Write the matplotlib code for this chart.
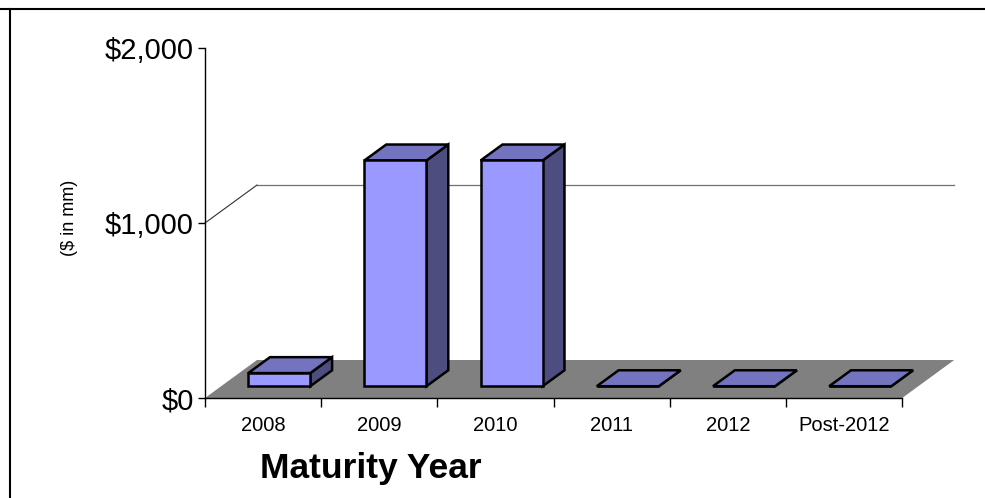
import matplotlib
matplotlib.use("Agg")
import matplotlib.pyplot as plt
from matplotlib.patches import Polygon
from matplotlib.lines import Line2D

plt.rcParams['font.family'] = ['Liberation Sans', 'DejaVu Sans']

# maturities, $ in mm
years = ['2008', '2009', '2010', '2011', '2012', 'Post-2012']
amounts = [75, 1290, 1290, 0, 0, 0]
y_ticks = [0, 1000, 2000]
y_labels = ['$0', '$1,000', '$2,000']

# fake 3-d look: depth offset of the floor, in data units
DEPTH_X = 0.4475
DEPTH_Y = 217
BAR_FRONT = 0.31   # where the bar front sits inside the depth
BAR_DEPTH = 0.42   # how deep each bar is
BAR_W = 0.534

FRONT = '#9999ff'
TOP = '#7373c0'
SIDE = '#4d4d80'

fig = plt.figure(figsize=(9.85, 4.98), dpi=100)
ax = fig.add_axes([205 / 985, 100 / 498, 116.2 * 6.6 / 985, 0.175 * 2250 / 498])
ax.set_xlim(0, 6.6)
ax.set_ylim(0, 2250)
ax.patch.set_visible(False)

n = len(years)

# floor
floor = Polygon([(0, 0), (n, 0), (n + DEPTH_X, DEPTH_Y), (DEPTH_X, DEPTH_Y)],
                closed=True, facecolor='#808080', edgecolor='none', zorder=1)
ax.add_patch(floor)

# gridline on the back wall plus the diagonal joining it to the axis
for t in y_ticks[1:-1]:
    ax.plot([DEPTH_X, n + DEPTH_X], [t + DEPTH_Y, t + DEPTH_Y],
            color='#707070', lw=0.9, zorder=2, clip_on=False)
    ax.plot([0, DEPTH_X], [t, t + DEPTH_Y], color='#303030', lw=0.8,
            zorder=2, clip_on=False)

ox, oy = BAR_FRONT * DEPTH_X, BAR_FRONT * DEPTH_Y
bx, by = BAR_DEPTH * DEPTH_X, BAR_DEPTH * DEPTH_Y
for i, v in enumerate(amounts):
    x0 = i + 0.5 - BAR_W / 2 + ox
    x1 = x0 + BAR_W
    y0 = oy
    y1 = v + oy
    side = [(x1, y0), (x1 + bx, y0 + by), (x1 + bx, y1 + by), (x1, y1)]
    top = [(x0, y1), (x1, y1), (x1 + bx, y1 + by), (x0 + bx, y1 + by)]
    front = [(x0, y0), (x1, y0), (x1, y1), (x0, y1)]
    for pts, c in [(side, SIDE), (top, TOP), (front, FRONT)]:
        ax.add_patch(Polygon(pts, closed=True, facecolor=c, edgecolor='black',
                             lw=1.8, joinstyle='miter', zorder=3 + i * 0.01))

for s in ['top', 'right']:
    ax.spines[s].set_visible(False)
ax.spines['left'].set_bounds(0, 2000)
ax.spines['bottom'].set_bounds(0, n)
for s in ['left', 'bottom']:
    ax.spines[s].set_linewidth(1.0)
    ax.spines[s].set_zorder(5)

ax.set_yticks(y_ticks)
ax.set_yticklabels(y_labels)
ax.tick_params(axis='y', direction='out', length=5, width=1, pad=3, labelsize=21)

ax.set_xticks(range(n + 1))
ax.set_xticklabels([])
ax.set_xticks([i + 0.5 for i in range(n)], minor=True)
ax.set_xticklabels(years, minor=True)
ax.tick_params(axis='x', which='major', direction='out', length=6.5, width=1)
ax.tick_params(axis='x', which='minor', length=0, pad=13, labelsize=14.5)

fig.text(371 / 985, 1 - 478 / 498, 'Maturity Year', fontsize=25.5,
         fontweight='bold', ha='center', va='baseline')
fig.text(70 / 985, 1 - 218 / 498, '($ in mm)', fontsize=13, rotation=90,
         ha='center', va='center')

# chart frame (only top and left edges show)
fig.add_artist(Line2D([0, 1], [1 - 9.5 / 498, 1 - 9.5 / 498], color='black', lw=1.5))
fig.add_artist(Line2D([9.5 / 985, 9.5 / 985], [0, 1 - 9.5 / 498], color='black', lw=1.5))

fig.savefig('out.png', dpi=100)
